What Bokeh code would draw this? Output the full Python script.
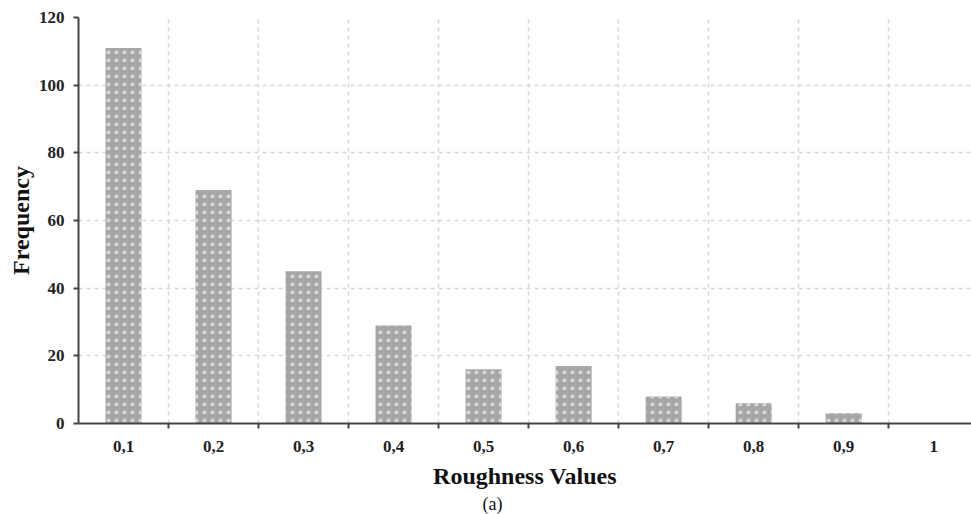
from bokeh.plotting import figure
from bokeh.models import FixedTicker, Range1d, Title, ColumnDataSource
from bokeh.embed import file_html
from bokeh.resources import INLINE

categories = ["0,1", "0,2", "0,3", "0,4", "0,5", "0,6", "0,7", "0,8", "0,9", "1"]
frequencies = [111, 69, 45, 29, 16, 17, 8, 6, 3, 0]
y_ticks = [0, 20, 40, 60, 80, 100, 120]
subcaption = "(a)"

xs = list(range(1, len(categories) + 1))
src = ColumnDataSource(dict(x=xs, top=frequencies))

p = figure(width=971, height=514, output_backend="svg", toolbar_location=None,
           x_range=Range1d(0.5, 10.42), y_range=Range1d(0, 120),
           min_border_left=78, min_border_right=0, min_border_top=17, min_border_bottom=91)
p.outline_line_color = None

p.vbar(x="x", top="top", width=0.4, source=src, fill_color="#a6a6a6", line_color=None,
       hatch_pattern="dot", hatch_color="white", hatch_scale=8, hatch_weight=0.5, hatch_alpha=0.55)

serif = "Liberation Serif"
# x axis
p.xaxis.ticker = FixedTicker(ticks=xs, minor_ticks=[i + 0.5 for i in xs])
p.xaxis.major_label_overrides = {x: c for x, c in zip(xs, categories)}
p.xaxis.major_tick_in = 0
p.xaxis.major_tick_out = 0
p.xaxis.minor_tick_in = 0
p.xaxis.minor_tick_out = 5
p.xaxis.minor_tick_line_width = 2
p.xaxis.minor_tick_line_color = "#444444"
p.xaxis.axis_line_color = "#444444"
p.xaxis.axis_line_width = 2
p.xaxis.major_label_text_font = serif
p.xaxis.major_label_text_font_style = "bold"
p.xaxis.major_label_text_font_size = "17px"
p.xaxis.major_label_text_color = "#222222"
p.xaxis.major_label_standoff = 12
p.xaxis.axis_label = "Roughness Values"
p.xaxis.axis_label_text_font = serif
p.xaxis.axis_label_text_font_style = "bold"
p.xaxis.axis_label_text_font_size = "24px"
p.xaxis.axis_label_text_color = "#111111"
p.xaxis.axis_label_standoff = 8

# y axis
p.yaxis.ticker = FixedTicker(ticks=y_ticks)
p.yaxis.minor_tick_line_color = None
p.yaxis.major_tick_in = 0
p.yaxis.major_tick_out = 5
p.yaxis.major_tick_line_width = 2
p.yaxis.major_tick_line_color = "#444444"
p.yaxis.axis_line_color = "#444444"
p.yaxis.axis_line_width = 2
p.yaxis.major_label_text_font = serif
p.yaxis.major_label_text_font_style = "bold"
p.yaxis.major_label_text_font_size = "17px"
p.yaxis.major_label_text_color = "#222222"
p.yaxis.major_label_standoff = 9
p.yaxis.axis_label = "Frequency"
p.yaxis.axis_label_text_font = serif
p.yaxis.axis_label_text_font_style = "bold"
p.yaxis.axis_label_text_font_size = "24px"
p.yaxis.axis_label_text_color = "#111111"
p.yaxis.axis_label_standoff = 2

# grids
p.ygrid.grid_line_color = "#d6d6d6"
p.ygrid.grid_line_dash = "4 4"
p.ygrid.grid_line_width = 1.5
p.xgrid.grid_line_color = None
p.xgrid.minor_grid_line_color = "#d6d6d6"
p.xgrid.minor_grid_line_dash = "4 4"
p.xgrid.minor_grid_line_width = 1.5

p.add_layout(Title(text=subcaption, align="left", offset=404, standoff=0,
                   text_font=serif, text_font_style="normal", text_font_size="18px",
                   text_color="#111111"), "below")

open("out.html", "w").write(file_html(p, INLINE))
